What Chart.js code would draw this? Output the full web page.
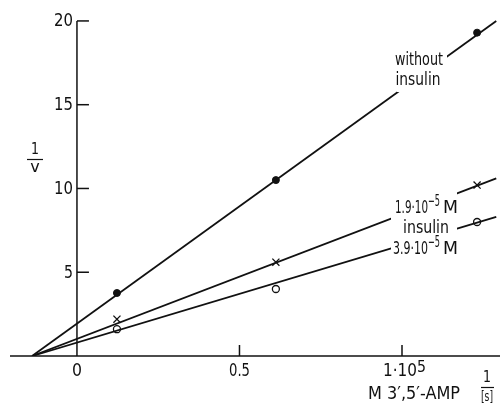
<!DOCTYPE html>
<html>
<head>
<meta charset="utf-8">
<script src="https://cdn.jsdelivr.net/npm/chart.js@4.4.1/dist/chart.umd.min.js"></script>
<style>
  html, body { margin: 0; padding: 0; background: #fff; }
  #wrap { width: 500px; height: 405px; }
</style>
</head>
<body>
<div id="wrap"><canvas id="chart"></canvas></div>
<script>
// ================= DATA =================
const xPoints = [0.123, 0.612, 1.231];          // 1/[S] (x 10^5 M^-1)
const withoutInsulin = [3.76, 10.5, 19.3];       // 1/v
const insulin19 = [2.2, 5.6, 10.2];
const insulin39 = [1.6, 4.0, 8.0];

// fitted lines: common intercept on x axis -> right end
const lineX = [-0.138, 1.29];
const withoutFit = [0, 20.0];
const fit19 = [0, 10.6];
const fit39 = [0, 8.3];

const xTicks = [0, 0.5, 1];
const yTicks = [5, 10, 15, 20];

const FAMILY = '"DejaVu Sans", sans-serif';
const INK = "#111";

const toXY = (xs, ys) => xs.map((x, i) => ({ x, y: ys[i] }));

// narrow text: fillText squeezed to a max width like the condensed lettering
function txt(ctx, str, x, y, size, maxW, align = "center") {
  ctx.font = size + "px " + FAMILY;
  ctx.textAlign = align;
  const w = ctx.measureText(str).width;
  ctx.fillText(str, x, y, Math.min(w, maxW));
}

// ================= AXES + LABELS PLUGIN =================
const drawAxes = {
  id: "drawAxes",
  beforeDatasetsDraw(chart) {
    const { ctx, chartArea, scales: { x, y } } = chart;
    const x0 = x.getPixelForValue(0);
    const y0 = y.getPixelForValue(0);
    ctx.save();
    ctx.strokeStyle = INK;
    ctx.fillStyle = INK;
    ctx.lineWidth = 1.5;
    ctx.textBaseline = "middle";

    // x axis
    ctx.beginPath();
    ctx.moveTo(chartArea.left, y0);
    ctx.lineTo(chartArea.right, y0);
    ctx.stroke();

    // y axis
    ctx.beginPath();
    ctx.moveTo(x0, y0);
    ctx.lineTo(x0, y.getPixelForValue(20));
    ctx.stroke();

    // y ticks (inward)
    yTicks.forEach(v => {
      const py = y.getPixelForValue(v);
      ctx.beginPath();
      ctx.moveTo(x0, py);
      ctx.lineTo(x0 + 12, py);
      ctx.stroke();
      txt(ctx, String(v), x0 - 4, py + 1, 17, v < 10 ? 9 : 19, "right");
    });

    // x ticks (upward)
    xTicks.forEach(v => {
      const px = x.getPixelForValue(v);
      if (v !== 0) {
        ctx.beginPath();
        ctx.moveTo(px, y0);
        ctx.lineTo(px, y0 - 11);
        ctx.stroke();
      }
      if (v === 1) {
        txt(ctx, "1·10", px + 15, y0 + 16, 17, 34, "right");
        txt(ctx, "5", px + 15, y0 + 12, 15, 9, "left");
      } else if (v === 0) {
        txt(ctx, "0", px, y0 + 16, 17, 10);
      } else {
        txt(ctx, "0.5", px, y0 + 16, 17, 21);
      }
    });

    // x axis title
    txt(ctx, "M 3\u2032,5\u2032-AMP", 368, 395, 17, 92, "left");
    txt(ctx, "1", 487, 378, 15, 8);
    txt(ctx, "[s]", 487, 397, 14, 12);
    ctx.lineWidth = 1.2;
    ctx.beginPath();
    ctx.moveTo(481, 387.5);
    ctx.lineTo(494, 387.5);
    ctx.stroke();

    // y axis title 1/v
    txt(ctx, "1", 35, 150, 16, 8);
    txt(ctx, "v", 35, 168, 16, 10);
    ctx.beginPath();
    ctx.moveTo(27, 159.5);
    ctx.lineTo(43, 159.5);
    ctx.stroke();

    ctx.restore();
  },
  afterDatasetsDraw(chart) {
    const { ctx } = chart;
    ctx.save();
    // white masks make the breaks in the lines where the labels sit
    ctx.fillStyle = "#fff";
    ctx.fillRect(397, 48, 50, 44);
    ctx.fillRect(391, 189, 66, 68);

    ctx.fillStyle = INK;
    ctx.textBaseline = "middle";
    txt(ctx, "without", 419, 60, 18, 48);
    txt(ctx, "insulin", 418, 80, 18, 45);
    txt(ctx, "insulin", 426, 228, 18, 46);

    // "n.n·10^-5 M"
    const conc = (str, xl, yc, wNum) => {
      txt(ctx, str, xl, yc, 18, wNum, "left");
      txt(ctx, "\u22125", xl + wNum, yc - 6, 15, 12, "left");
      txt(ctx, "M", xl + wNum + 15, yc, 18, 15, "left");
    };
    conc("1.9·10", 395, 208, 33);
    conc("3.9·10", 393, 249, 35);
    ctx.restore();
  }
};

// ================= CHART =================
const lineStyle = {
  showLine: true,
  borderColor: INK,
  borderWidth: 1.8,
  pointRadius: 0,
  fill: false
};

new Chart(document.getElementById("chart"), {
  type: "scatter",
  data: {
    datasets: [
      { label: "without fit", data: toXY(lineX, withoutFit), ...lineStyle },
      { label: "1.9 fit", data: toXY(lineX, fit19), ...lineStyle },
      { label: "3.9 fit", data: toXY(lineX, fit39), ...lineStyle },
      {
        label: "without insulin",
        data: toXY(xPoints, withoutInsulin),
        pointStyle: "circle",
        pointRadius: 3.5,
        backgroundColor: INK,
        borderColor: INK,
        borderWidth: 1
      },
      {
        label: "1.9e-5 M insulin",
        data: toXY(xPoints, insulin19),
        pointStyle: "crossRot",
        pointRadius: 5,
        borderColor: INK,
        borderWidth: 1.3
      },
      {
        label: "3.9e-5 M insulin",
        data: toXY(xPoints, insulin39),
        pointStyle: "circle",
        pointRadius: 3.5,
        backgroundColor: "#fff",
        borderColor: INK,
        borderWidth: 1.3
      }
    ]
  },
  options: {
    responsive: true,
    maintainAspectRatio: false,
    animation: false,
    layout: { autoPadding: false, padding: { left: 10, right: 0, top: 0, bottom: 49 } },
    plugins: { legend: { display: false }, tooltip: { enabled: false } },
    scales: {
      x: { type: "linear", min: -0.206, max: 1.3015, display: false },
      y: { type: "linear", min: 0, max: 21.25, display: false }
    }
  },
  plugins: [drawAxes]
});
</script>
</body>
</html>
